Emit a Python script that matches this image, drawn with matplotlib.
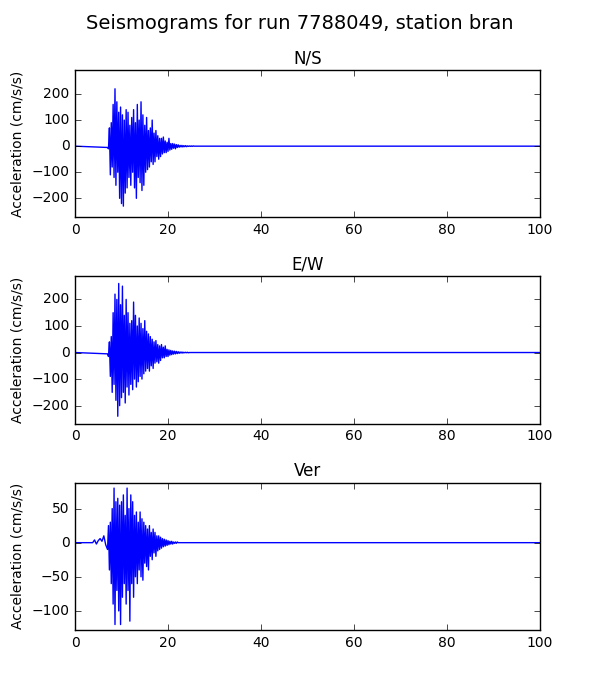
import numpy as np
import matplotlib
matplotlib.use("Agg")
import matplotlib.pyplot as plt

plt.style.use("classic")

# ---- DATA (0.2 s steps from 7.0 s) ----
dt = 0.2
t_start = 7.0
t_end = 100.0

ns_burst = [-5, -10, 70, -110, 90, -80, 160, -120, 220, -150,
            170, -100, 130, -200, 150, -220, 120, -230, 100, -180,
            140, -160, 130, -120, 80, -150, 110, -100, 140, -160,
            90, -200, 160, -120, 100, -140, 170, -170, 120, -150,
            80, -100, 110, -90, 60, -80, 70, -60, 100, -70,
            50, -60, 60, -40, 40, -50, 30, -40, 30, -30,
            35, -25, 20, -25, 15, -20, 30, -15, 10, -12,
            10, -8, 8, -10, 6, -5, 5, -4, 3, -3,
            3, -3, 2, -2, 2, -2, 1, -1, 1, -1,
            1, -1, 1, 0, 0, 0, 0, 0, 0, 0]

ew_burst = [-5, -15, 40, -90, 60, -150, 150, -120, 220, -180,
            200, -240, 260, -200, 180, -170, 250, -150, 140, -190,
            200, -130, 150, -160, 110, -120, 120, -140, 190, -100,
            140, -130, 100, -110, 130, -90, 110, -100, 90, -80,
            120, -70, 80, -60, 70, -70, 60, -50, 50, -60,
            40, -40, 45, -35, 30, -40, 25, -30, 30, -20,
            20, -20, 25, -15, 12, -15, 10, -10, 8, -8,
            6, -6, 5, -5, 4, -4, 3, -3, 2, -2,
            2, -2, 1, -1, 1, -1, 1, -1, 0, 0,
            0, 0, 0, 0, 0, 0, 0, 0, 0, 0]

ver_pre = [(3.8, 0), (4.2, 4), (4.6, -2), (5.0, 3), (5.4, 6), (5.8, 2), (6.2, 10), (6.6, -3)]

ver_burst = [-10, 25, -40, 30, -60, 50, -90, 80, -120, 60,
             -70, 65, -100, 55, -120, 60, -80, 70, -60, 40,
             -90, 80, -70, 50, -115, 70, -60, 60, -80, 40,
             -50, 45, -60, 30, -40, 45, -50, 35, -55, 30,
             -30, 25, -35, 20, -40, 25, -20, 15, -25, 20,
             -15, 15, -20, 10, -12, 10, -10, 8, -8, 6,
             -6, 5, -5, 4, -4, 3, -3, 2, -2, 2,
             -2, 1, -1, 1, -1, 1, 0, 0, 0, 0,
             0, 0, 0, 0, 0, 0, 0, 0, 0, 0,
             0, 0, 0, 0, 0, 0, 0, 0, 0, 0]


def trace(burst, pre=()):
    t = [0.0] + [p[0] for p in pre] + [t_start + i * dt for i in range(len(burst))] + [t_end]
    v = [0.0] + [p[1] for p in pre] + list(burst) + [0.0]
    return t, v


channels = [
    ("N/S", trace(ns_burst), (-273, 292)),
    ("E/W", trace(ew_burst), (-268, 287)),
    ("Ver", trace(ver_burst, ver_pre), (-128, 88)),
]

fig, axes = plt.subplots(3, 1, figsize=(6, 7), dpi=100)
fig.patch.set_facecolor("white")
fig.subplots_adjust(left=0.125, right=0.9, top=0.9, bottom=0.1, hspace=0.4)

for ax, (name, (t, v), ylim) in zip(axes, channels):
    ax.plot(t, v, color="b", lw=1)
    ax.set_title(name, fontsize=12)
    ax.set_xlim(0, 100)
    ax.set_ylim(ylim)
    ax.set_ylabel("Acceleration (cm/s/s)", fontsize=10)
    ax.tick_params(labelsize=10)

fig.suptitle("Seismograms for run 7788049, station bran", fontsize=14)
fig.savefig("out.png", dpi=100, facecolor="white")
